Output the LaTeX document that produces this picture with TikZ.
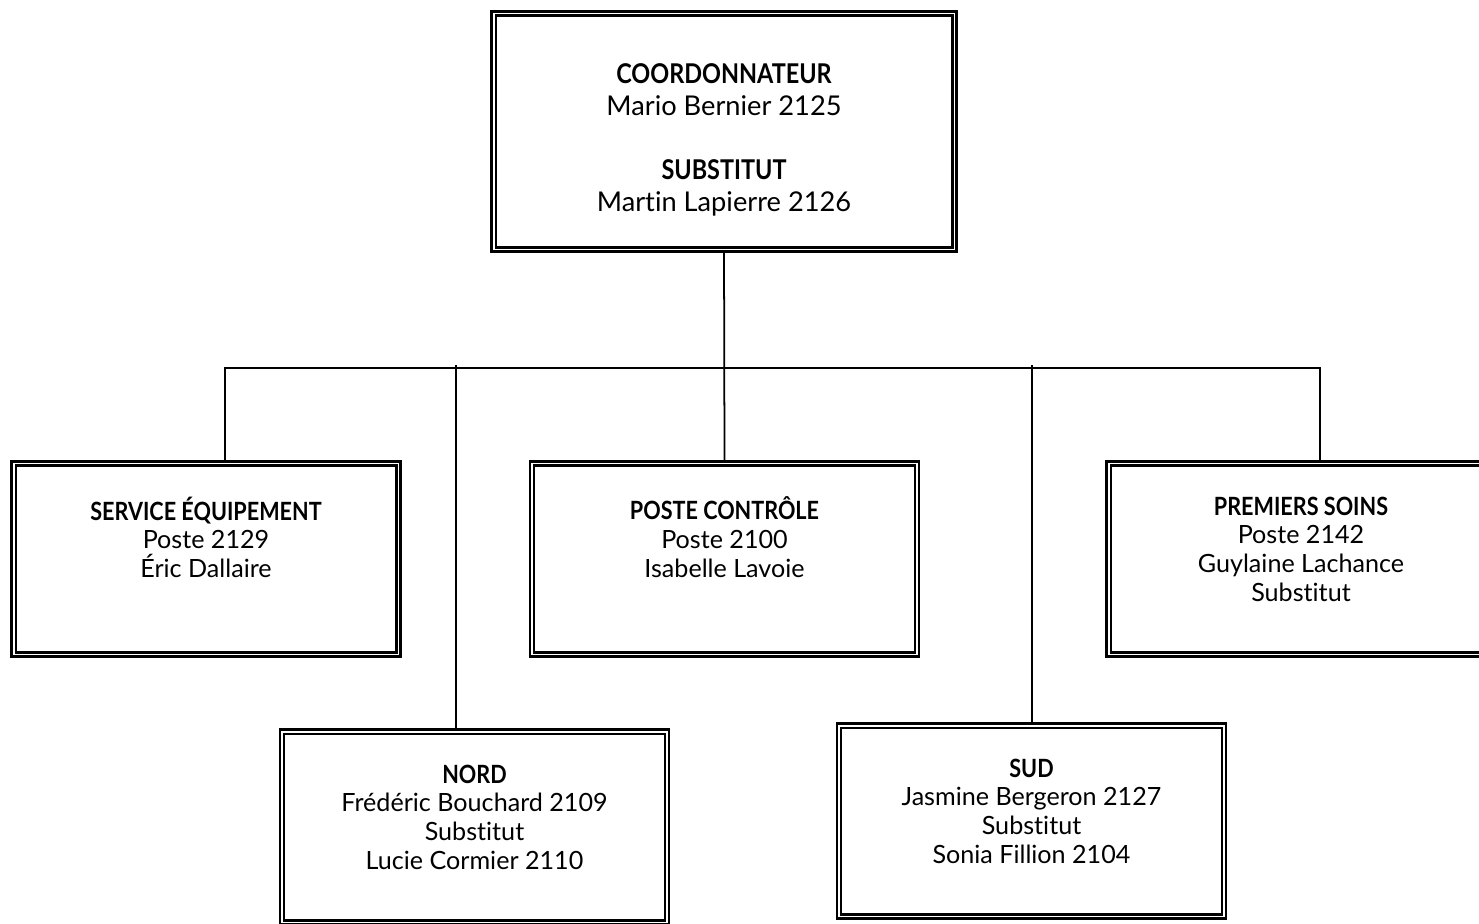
\documentclass[tikz,border=0pt]{standalone}
\usepackage{fontspec}
\setmainfont{Lato}[Ligatures=NoCommon]
\newfontfamily\headfont{Lato}[FakeStretch=0.86, Ligatures=NoCommon]
\usetikzlibrary{positioning}

\newcommand{\unithead}[1]{{\headfont\bfseries #1}}

\begin{document}
\begin{tikzpicture}[x=0.02cm, y=-0.02cm,
    unitbox/.style={draw, double, line width=1.3pt, double distance=1.1pt,
        minimum width=7.7cm, minimum height=3.82cm, inner sep=0pt},
    unittext/.style={align=center, inner sep=0pt, font=\fontsize{14.3pt}{16.4pt}\selectfont},
    bus/.style={line width=1pt}]
    \useasboundingbox (0,0) rectangle (1479,923);

    % coordonnateur
    \node[unitbox, minimum width=9.22cm, minimum height=4.72cm] (coord) at (724,131.5) {};
    \node[unittext, font=\fontsize{15.5pt}{18.2pt}\selectfont, below=1.02cm of coord.north] (coordtxt)
        {\unithead{COORDONNATEUR}\\Mario Bernier 2125\\[18.2pt]\unithead{SUBSTITUT}\\Martin Lapierre 2126};

    % premier niveau
    \node[unitbox] (serv) at (206,559) {};
    \node[unittext, below=0.68cm of serv.north] (servtxt)
        {\unithead{SERVICE ÉQUIPEMENT}\\Poste 2129\\Éric Dallaire};

    \node[unitbox] (ctrl) at (724.5,559) {};
    \node[unittext, below=0.68cm of ctrl.north] (ctrltxt)
        {\unithead{POSTE CONTRÔLE}\\Poste 2100\\Isabelle Lavoie};

    \node[unitbox] (prem) at (1301,559) {};
    \node[unittext, below=0.68cm of prem.north] (premtxt)
        {\unithead{PREMIERS SOINS}\\Poste 2142\\Guylaine Lachance\\Substitut};

    % secteurs
    \node[unitbox] (nord) at (474.5,827) {};
    \node[unittext, below=0.68cm of nord.north] (nordtxt)
        {\unithead{NORD}\\Frédéric Bouchard 2109\\Substitut\\Lucie Cormier 2110};

    \node[unitbox] (sud) at (1031.5,821) {};
    \node[unittext, below=0.68cm of sud.north] (sudtxt)
        {\unithead{SUD}\\Jasmine Bergeron 2127\\Substitut\\Sonia Fillion 2104};

    % liaisons
    \coordinate (busL) at (225,368);
    \coordinate (busR) at (1320,368);
    \coordinate (nordtap) at (456,365);
    \coordinate (sudtap) at (1032,365);

    \draw[bus] (coord.south) -- (ctrl.north);
    \draw[bus] (busL |- serv.north) -- (busL) -- (busR) -- (busR |- prem.north);
    \draw[bus] (nordtap) -- (nordtap |- nord.north);
    \draw[bus] (sudtap) -- (sudtap |- sud.north);
\end{tikzpicture}
\end{document}
